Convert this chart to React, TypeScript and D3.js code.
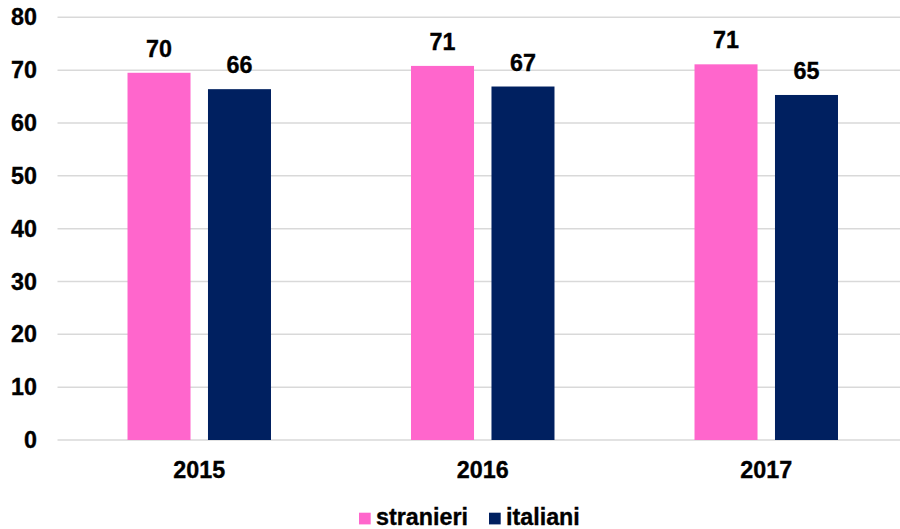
import React from "react";
import * as d3 from "d3";

const categories = ["2015", "2016", "2017"];
const seriesNames = ["stranieri", "italiani"];
const stranieri = [69.5, 70.8, 71.1];
const italiani = [66.4, 66.9, 65.3];
const yTicks = [0, 10, 20, 30, 40, 50, 60, 70, 80];
const colors = ["#FF66CC", "#002060"];

const W = 900;
const H = 529;
const FONT = "'Liberation Sans', Arial, sans-serif";
const FS = 23.3;

export default function App() {
  const values = [stranieri, italiani];
  const x0 = d3.scaleBand<string>().domain(categories).range([57.5, 908]).paddingInner(0).paddingOuter(0);
  const x1 = d3
    .scaleBand<string>()
    .domain(seriesNames)
    .range([0, x0.bandwidth()])
    .paddingInner(0.217)
    .paddingOuter(0.87);
  const y = d3.scaleLinear().domain([0, 80]).range([440, 17.3]);
  const textProps = { fontSize: FS, fontWeight: "bold" as const, fill: "#000", stroke: "#000", strokeWidth: 0.35 };

  return (
    <svg width={W} height={H} style={{ position: "absolute", left: 0, top: 0, background: "#fff" }} fontFamily={FONT}>
      {yTicks.map((t) => (
        <g key={t}>
          <line x1={57.5} x2={W} y1={y(t)} y2={y(t)} stroke="#d9d9d9" strokeWidth={1.5} />
          <text x={37} y={y(t)} dy="0.35em" textAnchor="end" {...textProps}>
            {t}
          </text>
        </g>
      ))}
      {categories.map((c, ci) => (
        <g key={c}>
          {seriesNames.map((s, si) => {
            const v = values[si][ci];
            const bx = (x0(c) as number) + (x1(s) as number);
            return (
              <g key={s}>
                <rect x={bx} y={y(v)} width={x1.bandwidth()} height={y(0) - y(v)} fill={colors[si]} />
                <text x={bx + x1.bandwidth() / 2} y={y(v) - 16} textAnchor="middle" {...textProps}>
                  {Math.round(v)}
                </text>
              </g>
            );
          })}
          <text x={(x0(c) as number) + x0.bandwidth() / 2} y={478} textAnchor="middle" {...textProps}>
            {c}
          </text>
        </g>
      ))}
      {seriesNames.map((s, si) => {
        const lx = si === 0 ? 359 : 489;
        return (
          <g key={s}>
            <rect x={lx} y={512.7} width={11.7} height={11.7} fill={colors[si]} />
            <text x={lx + 17} y={525} {...textProps}>
              {s}
            </text>
          </g>
        );
      })}
    </svg>
  );
}
